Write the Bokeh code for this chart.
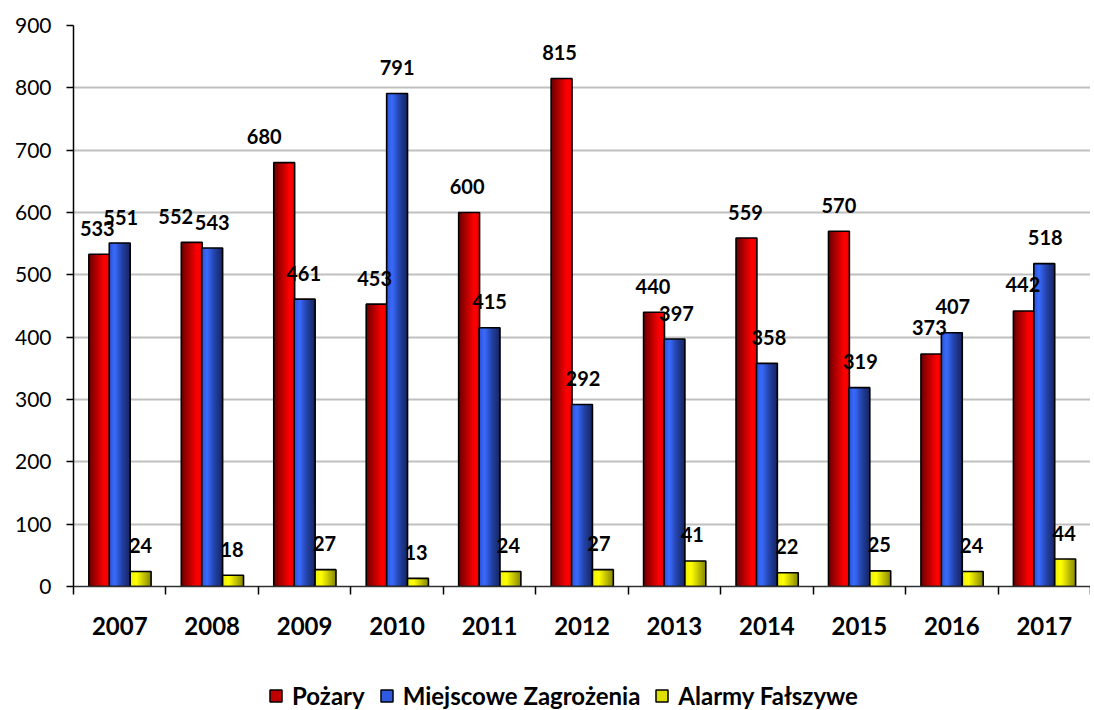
import numpy as np
from bokeh.plotting import figure
from bokeh.layouts import column
from bokeh.models import (ColumnDataSource, Range1d, FixedTicker, LabelSet,
                          Legend, LegendItem)
from bokeh.core.properties import value
from bokeh.embed import file_html
from bokeh.resources import INLINE

# ---------------- data ----------------
years = ["2007", "2008", "2009", "2010", "2011", "2012",
         "2013", "2014", "2015", "2016", "2017"]
pozary = [533, 552, 680, 453, 600, 815, 440, 559, 570, 373, 442]
miejscowe = [551, 543, 461, 791, 415, 292, 397, 358, 319, 407, 518]
alarmy = [24, 18, 27, 13, 24, 27, 41, 22, 25, 24, 44]
series_names = ["Pożary", "Miejscowe Zagrożenia", "Alarmy Fałszywe"]
y_ticks = [0, 100, 200, 300, 400, 500, 600, 700, 800, 900]

# label nudges (screen px) for the data labels of each series
label_dx = [
    [-2, -16, -20, -2, -2, -2, -1, -1, 0, -2, -1],
    [1, 0, -1, 0, 0, 1, 2, 2, 1, 1, 1],
    [0, -1, -1, -2, -2, -4, -3, -1, -1, -1, -1],
]

FONT = "Lato"
series_vals = [pozary, miejscowe, alarmy]
offsets = [-0.221, 0.0, 0.226]
bar_w = 0.226

gradients = [
    [(0.0, "#6a0000"), (0.35, "#b00000"), (0.75, "#ff0000"), (1.0, "#ee0000")],
    [(0.0, "#2b52d2"), (0.25, "#3a6cff"), (0.6, "#2443aa"), (1.0, "#15255e")],
    [(0.0, "#eeee10"), (0.3, "#ffff00"), (1.0, "#858500")],
]
legend_colors = ["#c00000", "#2f5ae0", "#dede00"]


def hex2rgb(h):
    h = h.lstrip("#")
    return np.array([int(h[i:i + 2], 16) for i in (0, 2, 4)], dtype=float)


def grad_color(stops, t):
    for (p0, c0), (p1, c1) in zip(stops[:-1], stops[1:]):
        if p0 <= t <= p1:
            f = (t - p0) / (p1 - p0) if p1 > p0 else 0
            c = hex2rgb(c0) * (1 - f) + hex2rgb(c1) * f
            return "#%02x%02x%02x" % tuple(int(round(v)) for v in c)
    return stops[-1][1]


xc = np.arange(len(years)) + 0.5

p = figure(width=1090, height=652, output_backend="svg", toolbar_location=None,
           x_range=Range1d(0, len(years)), y_range=Range1d(0, 900),
           min_border_left=73, min_border_right=0, min_border_top=25,
           min_border_bottom=66, outline_line_color=None)
p.background_fill_color = "white"
p.border_fill_color = "white"

# grid
p.xgrid.grid_line_color = None
p.ygrid.grid_line_color = "#c0c0c0"
p.ygrid.grid_line_width = 2

# y axis
p.yaxis.ticker = FixedTicker(ticks=y_ticks)
p.yaxis.axis_line_color = "black"
p.yaxis.axis_line_width = 1.5
p.yaxis.major_tick_out = 7
p.yaxis.major_tick_in = 0
p.yaxis.major_tick_line_color = "black"
p.yaxis.major_tick_line_width = 1.5
p.yaxis.minor_tick_line_color = None
p.yaxis.major_label_text_font = FONT
p.yaxis.major_label_text_font_size = "21px"
p.yaxis.major_label_text_color = "black"
p.yaxis.major_label_standoff = 15

# x axis: labels at centres, ticks at boundaries
p.xaxis.ticker = FixedTicker(ticks=list(xc), minor_ticks=list(range(len(years) + 1)))
p.xaxis.major_label_overrides = {float(x): y for x, y in zip(xc, years)}
p.xaxis.axis_line_color = "#303030"
p.xaxis.axis_line_width = 1.5
p.xaxis.major_tick_out = 0
p.xaxis.major_tick_in = 0
p.xaxis.major_tick_line_color = None
p.xaxis.minor_tick_out = 8
p.xaxis.minor_tick_in = 0
p.xaxis.minor_tick_line_color = "black"
p.xaxis.minor_tick_line_width = 1.5
p.xaxis.major_label_text_font = FONT
p.xaxis.major_label_text_font_style = "bold"
p.xaxis.major_label_text_font_size = "24px"
p.xaxis.major_label_text_color = "black"
p.xaxis.major_label_standoff = 22

N = 16
for s, vals in enumerate(series_vals):
    xs = xc + offsets[s]
    src = ColumnDataSource(dict(x=xs, top=vals))
    right = xs + bar_w / 2
    # gradient: overlapping strips, each running to the bar's right edge
    for k in range(N):
        t = (k + 0.5) / N
        left = xs - bar_w / 2 + k * bar_w / N
        ssrc = ColumnDataSource(dict(x=(left + right) / 2, w=right - left, top=vals))
        p.vbar(x="x", top="top", width="w", source=ssrc,
               fill_color=grad_color(gradients[s], t), line_color=None)
    # outline
    p.vbar(x="x", top="top", width=bar_w, source=src, fill_color=None,
           line_color="black", line_width=1.6)
    # labels
    lsrc = ColumnDataSource(dict(x=xs, y=vals, text=[str(v) for v in vals],
                                 dx=label_dx[s]))
    p.add_layout(LabelSet(x="x", y="y", text="text", source=lsrc,
                          x_offset="dx", y_offset=26,
                          text_align="center", text_baseline="middle",
                          text_font=value(FONT), text_font_style="bold",
                          text_font_size="20px", text_color="black"))

# ---------------- legend strip ----------------
lg = figure(width=1090, height=58, output_backend="svg", toolbar_location=None,
            x_range=Range1d(0, 1), y_range=Range1d(0, 1), min_border=0,
            outline_line_color=None)
lg.axis.visible = False
lg.grid.visible = False
legend_items = []
for s in range(3):
    # swatch-only renderer (its single bar has no height, so nothing is drawn)
    r = lg.vbar(x=[float("nan")], bottom=[float("nan")], top=[float("nan")],
                width=0.01, fill_color=legend_colors[s],
                line_color="black", line_width=1.5)
    legend_items.append(LegendItem(label=series_names[s], renderers=[r]))

legend = Legend(items=legend_items, orientation="horizontal",
                location=(195, 0), margin=0, padding=0, spacing=14,
                glyph_width=15, glyph_height=15, label_standoff=9,
                label_text_font=FONT, label_text_font_style="bold",
                label_text_font_size="24px", label_text_color="black",
                border_line_color=None, background_fill_alpha=0)
lg.add_layout(legend, "center")

layout = column(p, lg, spacing=0)
open("out.html", "w").write(file_html(layout, INLINE))
